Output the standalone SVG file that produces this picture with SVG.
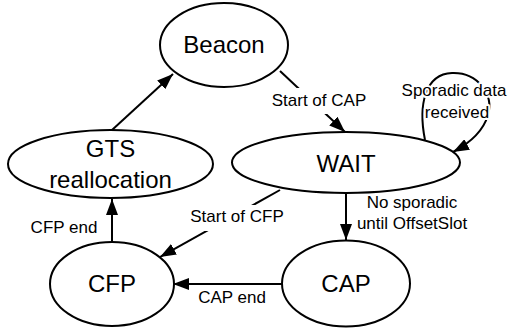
<svg xmlns="http://www.w3.org/2000/svg" width="512" height="333" viewBox="0 0 512 333">
<defs>
<style>
.node ellipse{fill:#fff;stroke:#000;stroke-width:2}
.nt{font-family:"Liberation Sans",Arial,sans-serif;font-size:24px;text-anchor:middle;fill:#000}
.el{font-family:"Liberation Sans",Arial,sans-serif;font-size:17px;text-anchor:middle;fill:#000}
.halo{paint-order:stroke;stroke:#fff;stroke-width:4px;stroke-linejoin:round}
#edges path,#edges line{stroke:#000;stroke-width:2;fill:none;marker-end:url(#ah)}
</style>
<marker id="ah" viewBox="0 0 16 12" refX="16" refY="6" markerWidth="16" markerHeight="12" orient="auto" markerUnits="userSpaceOnUse"><path d="M0,0 L16,6 L0,12 Z" fill="#000"/></marker>
</defs>
<rect width="512" height="333" fill="#fff"/>
<g id="edges">
<line x1="112" y1="130" x2="173" y2="74"/>
<line x1="280" y1="71" x2="345" y2="132"/>
<line x1="346" y1="193" x2="346" y2="240"/>
<line x1="280" y1="190" x2="160" y2="257"/>
<line x1="283" y1="284" x2="173" y2="284"/>
<line x1="112" y1="242" x2="112" y2="199"/>
<path d="M425,140 C418,105 425,74 452,73 C478,72 494,95 488,115 C483,132 470,143 453,152"/>
<rect x="268" y="88" width="102" height="26" fill="#fff"/>
<text class="el" x="319" y="106">Start of CAP</text>
<rect x="187" y="205" width="100" height="26" fill="#fff"/>
<text class="el" x="237" y="222">Start of CFP</text>
<text class="el halo" x="454" y="96">Sporadic data</text>
<text class="el halo" x="457" y="118">received</text>
<text class="el" x="412" y="208">No sporadic</text>
<text class="el" x="412" y="229">until OffsetSlot</text>
<text class="el" x="232" y="303">CAP end</text>
<text class="el" x="64" y="233">CFP end</text>
</g>
<g id="beacon" class="node"><ellipse cx="224" cy="45" rx="64" ry="42"/><text class="nt" x="224" y="53">Beacon</text></g>
<g id="wait" class="node"><ellipse cx="346" cy="162.5" rx="114" ry="30.5"/><text class="nt" x="346" y="172">WAIT</text></g>
<g id="gts" class="node"><ellipse cx="110.5" cy="164" rx="102.5" ry="34"/><text class="nt" x="110.5" y="157">GTS</text><text class="nt" x="110.5" y="188">reallocation</text></g>
<g id="cfp" class="node"><ellipse cx="112" cy="284" rx="62" ry="42"/><text class="nt" x="112" y="292">CFP</text></g>
<g id="cap" class="node"><ellipse cx="346" cy="283.5" rx="64" ry="43"/><text class="nt" x="346" y="292">CAP</text></g>
</svg>
